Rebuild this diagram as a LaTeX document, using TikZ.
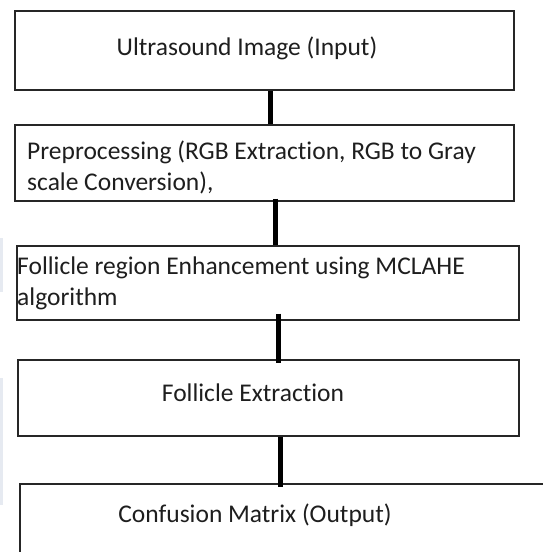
\documentclass[tikz,border=0pt]{standalone}
\usepackage{fontspec}
\setmainfont{Carlito}[Ligatures={NoCommon}]
\definecolor{txt}{RGB}{30,30,30}
\definecolor{wm}{RGB}{230,234,241}
\begin{document}
\begin{tikzpicture}[x=1pt,y=-1pt,
  box/.style={draw=black!85, line width=1.6pt, rectangle, anchor=north west, inner sep=0pt},
  lbl/.style={font=\fontsize{25.5}{31}\selectfont, text=txt, inner sep=0pt},
  conn/.style={line width=5pt, black}]
\useasboundingbox (0,0) rectangle (543,552);
\clip (0,0) rectangle (543,552);
% faint watermark at left edge
\fill[wm] (0,238) rectangle (3,292);
\fill[wm] (0,378) rectangle (3,505);
% boxes
\node[box, minimum width=499pt, minimum height=79pt] (b1) at (14,10) {};
\node[box, minimum width=499pt, minimum height=76pt] (b2) at (14,124) {};
\node[box, minimum width=502pt, minimum height=74pt] (b3) at (16,245) {};
\node[box, minimum width=501pt, minimum height=76pt] (b4) at (17,359) {};
\node[box, minimum width=560pt, minimum height=80pt] (b5) at (19,483) {};
% texts
\node[lbl] (t1) at (247,48) {Ultrasound Image (Input)};
\node[lbl, anchor=west, align=left] (t2) at (27,167) {Preprocessing (RGB Extraction, RGB to Gray\\scale Conversion),};
\node[lbl, anchor=west, align=left] (t3) at (17,283) {Follicle region Enhancement using MCLAHE\\algorithm};
\node[lbl] (t4) at (253,393) {Follicle Extraction};
\node[lbl] (t5) at (255,515) {Confusion Matrix (Output)};
% connectors
\coordinate (c1) at (270,0);
\coordinate (c2) at (275,0);
\coordinate (c3) at (278,0);
\coordinate (c4) at (280,0);
\draw[conn] (c1 |- b1.south) -- (c1 |- b2.north);
\draw[conn] ([yshift=3pt]c2 |- b2.south) -- (c2 |- b3.north);
\draw[conn] ([yshift=7pt]c3 |- b3.south) -- ([yshift=-4pt]c3 |- b4.north);
\draw[conn] (c4 |- b4.south) -- ([yshift=-4pt]c4 |- b5.north);
\end{tikzpicture}
\end{document}
